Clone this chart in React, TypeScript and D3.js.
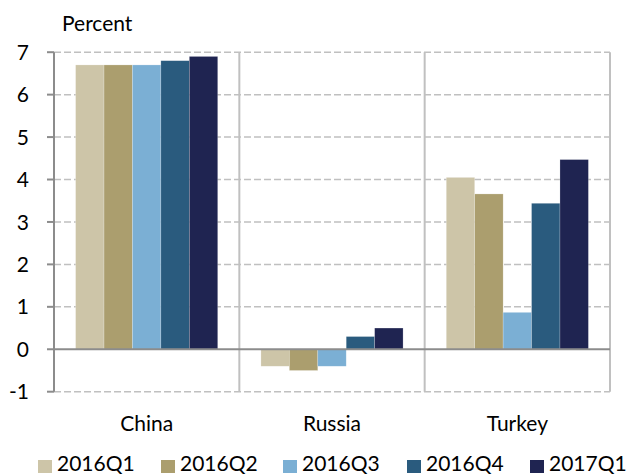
import React from "react";
import * as d3 from "d3";

const categories = ["China", "Russia", "Turkey"];
const seriesNames = ["2016Q1", "2016Q2", "2016Q3", "2016Q4", "2017Q1"];
const china = [6.7, 6.7, 6.7, 6.8, 6.9];
const russia = [-0.4, -0.5, -0.4, 0.3, 0.5];
const turkey = [4.05, 3.66, 0.87, 3.44, 4.47];
const yTicks = [-1, 0, 1, 2, 3, 4, 5, 6, 7];
const colors = ["#cdc5a8", "#ab9e6e", "#7bafd4", "#2a5b7e", "#1f2451"];

const values: number[][] = [china, russia, turkey];

export default function App() {
  const W = 627, H = 475;
  const left = 54, right = 610, top = 52.2, bottom = 391.7;
  const font = "Lato, 'Open Sans', sans-serif";

  const x0 = d3.scaleBand<string>().domain(categories).range([left, right]).paddingInner(0).paddingOuter(0);
  const x1 = d3.scaleBand<string>().domain(seriesNames).range([0, x0.bandwidth()]).paddingInner(0).paddingOuter(0.76);
  const y = d3.scaleLinear().domain([-1, 7]).range([bottom, top]);

  const legendX = [38, 161, 283, 407, 530];

  return (
    <svg width={W} height={H} style={{ position: "absolute", left: 0, top: 0, display: "block" }}>
      <rect x={0} y={0} width={W} height={H} fill="#ffffff" />
      {/* gridlines */}
      {yTicks.filter((t) => t !== 0).map((t) => (
        <line key={"g" + t} x1={left} x2={right} y1={y(t)} y2={y(t)} stroke="#c0c0c0" strokeWidth={1.5} strokeDasharray="7,3" />
      ))}
      {/* vertical dividers */}
      {categories.map((c) => (
        <line key={"v" + c} x1={(x0(c) as number) + x0.bandwidth()} x2={(x0(c) as number) + x0.bandwidth()} y1={top} y2={bottom} stroke="#c0c0c0" strokeWidth={2} />
      ))}
      {/* bars */}
      {categories.map((c, ci) =>
        seriesNames.map((s, si) => {
          const v = values[ci][si];
          const bx = (x0(c) as number) + (x1(s) as number);
          const y0 = y(0);
          const yv = y(v);
          return (
            <rect key={c + s} x={bx} y={Math.min(y0, yv)} width={x1.bandwidth()} height={Math.abs(yv - y0)}
              fill={colors[si]} stroke="rgba(255,255,255,0.35)" strokeWidth={0.6} />
          );
        })
      )}
      {/* zero line */}
      <line x1={left} x2={right} y1={y(0)} y2={y(0)} stroke="#8c8c8c" strokeWidth={2} />
      {/* y axis */}
      <line x1={left} x2={left} y1={top} y2={bottom} stroke="#8c8c8c" strokeWidth={2} />
      {yTicks.map((t) => (
        <g key={"t" + t}>
          <line x1={left - 7} x2={left} y1={y(t)} y2={y(t)} stroke="#8c8c8c" strokeWidth={2} />
          <text x={29} y={y(t)} dy="0.36em" textAnchor="end" fontFamily={font} fontSize={21} fill="#000">{t}</text>
        </g>
      ))}
      <text x={62} y={31} fontFamily={font} fontSize={21} fill="#000">Percent</text>
      {/* category labels */}
      {categories.map((c) => (
        <text key={"c" + c} x={(x0(c) as number) + x0.bandwidth() / 2} y={431} textAnchor="middle" fontFamily={font} fontSize={21} fill="#000">{c}</text>
      ))}
      {/* legend */}
      {seriesNames.map((s, i) => (
        <g key={"l" + s}>
          <rect x={legendX[i]} y={460} width={14} height={13} fill={colors[i]} />
          <text x={legendX[i] + 19} y={471} fontFamily={font} fontSize={21} fill="#000">{s}</text>
        </g>
      ))}
    </svg>
  );
}
